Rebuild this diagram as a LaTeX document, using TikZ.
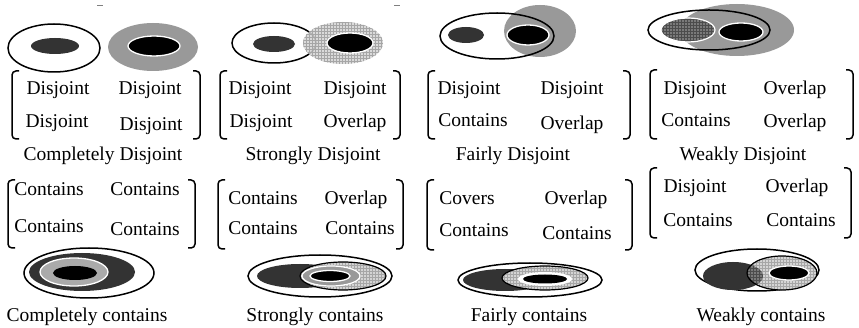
\documentclass[tikz,border=0pt]{standalone}
\usepackage{fontspec}
\setmainfont{Liberation Serif}
\usetikzlibrary{patterns}
\definecolor{darkf}{HTML}{333333}
\definecolor{midg}{HTML}{999999}
\definecolor{ltg}{HTML}{D4D4D4}
\definecolor{ringg}{HTML}{AAAAAA}
\definecolor{hatchd}{HTML}{7A7A7A}
\newcommand\brkt[4]{%
  \draw[brk] ({#1+7},#2) -- (#1,#2) -- (#1,#4) -- ({#1+7},#4);
  \draw[brk] ({#3-7},#2) -- (#3,#2) -- (#3,#4) -- ({#3-7},#4);}
\begin{document}
\begin{tikzpicture}[x=1pt,y=-1pt,
  lbl/.style={anchor=base,inner sep=0pt,font=\fontsize{19.5}{22}\selectfont},
  brk/.style={line width=1.5pt,rounded corners=4pt},
  outl/.style={draw=black,line width=1.5pt},
  blk/.style={fill=black,draw=white,line width=1.3pt},
  darkel/.style={fill=darkf},
  lighthatch/.style={fill=ltg},
  gridp/.style={pattern=grid,pattern color=gray!70}]
\useasboundingbox (0,0) rectangle (859,328);
\fill[white] (0,0) rectangle (859,328);
% tiny top marks
\draw[gray,line width=0.8pt] (97,5) -- (103,5);
\draw[gray,line width=0.8pt] (394,5) -- (400,5);
% ---------- top figures ----------
% 1 completely disjoint
\draw[outl] (54,48) ellipse [x radius=46,y radius=24];
\fill[darkel] (55,46) ellipse [x radius=24,y radius=8];
\fill[midg] (153,47) ellipse [x radius=45,y radius=24];
\filldraw[blk] (154,46) ellipse [x radius=26,y radius=10];
% 2 strongly disjoint
\draw[outl] (274,43) ellipse [x radius=42,y radius=20];
\fill[darkel] (274,44) ellipse [x radius=21,y radius=8];
\fill[ltg,fill opacity=0.85] (343,43) ellipse [x radius=40,y radius=21];
\fill[gridp] (343,43) ellipse [x radius=40,y radius=21];
\filldraw[blk] (350,43) ellipse [x radius=23,y radius=10];
% 3 fairly disjoint
\fill[midg] (540,31) ellipse [x radius=36,y radius=26];
\draw[outl] (497,36) ellipse [x radius=57,y radius=23];
\fill[darkel] (466,35) ellipse [x radius=18,y radius=8];
\filldraw[blk] (528,35) ellipse [x radius=21,y radius=10];
% 4 weakly disjoint
\fill[midg] (737,30) ellipse [x radius=57,y radius=26];
\draw[outl] (709,30) ellipse [x radius=61,y radius=20];
\filldraw[fill=hatchd,draw=white,line width=1.2pt] (688,30) ellipse [x radius=27,y radius=12];
\fill[pattern=grid,pattern color=black!70] (688,30) ellipse [x radius=26,y radius=11];
\filldraw[blk] (741,32) ellipse [x radius=22,y radius=9];
% ---------- top brackets ----------
\brkt{12}{71}{200}{139}
\brkt{220}{71}{400}{139}
\brkt{428}{71}{630}{139}
\brkt{650}{70}{853}{139}
\node[lbl] (a11) at (58,95) {Disjoint};
\node[lbl] (a12) at (150,95) {Disjoint};
\node[lbl] (a21) at (57,128) {Disjoint};
\node[lbl] (a22) at (151,131) {Disjoint};
\node[lbl] (b11) at (260,95) {Disjoint};
\node[lbl] (b12) at (355,95) {Disjoint};
\node[lbl] (b21) at (261,128) {Disjoint};
\node[lbl] (b22) at (355,128) {Overlap};
\node[lbl] (c11) at (469,95) {Disjoint};
\node[lbl] (c12) at (572,95) {Disjoint};
\node[lbl] (c21) at (473,127) {Contains};
\node[lbl] (c22) at (572,130) {Overlap};
\node[lbl] (d11) at (695,95) {Disjoint};
\node[lbl] (d12) at (795,95) {Overlap};
\node[lbl] (d21) at (696,127) {Contains};
\node[lbl] (d22) at (795,128) {Overlap};
\node[lbl] (capa) at (103,161) {Completely Disjoint};
\node[lbl] (capb) at (313,161) {Strongly Disjoint};
\node[lbl] (capc) at (513,161) {Fairly Disjoint};
\node[lbl] (capd) at (743,161) {Weakly Disjoint};
% ---------- bottom brackets ----------
\brkt{8}{180}{195}{248}
\brkt{218}{180}{403}{249}
\brkt{427}{180}{632}{250}
\brkt{650}{168}{851}{238}
\node[lbl] (e11) at (49,196) {Contains};
\node[lbl] (e12) at (145,196) {Contains};
\node[lbl] (e21) at (49,233) {Contains};
\node[lbl] (e22) at (145,236) {Contains};
\node[lbl] (f11) at (263,205) {Contains};
\node[lbl] (f12) at (356,205) {Overlap};
\node[lbl] (f21) at (263,235) {Contains};
\node[lbl] (f22) at (360,235) {Contains};
\node[lbl] (g11) at (467,205) {Covers};
\node[lbl] (g12) at (576,205) {Overlap};
\node[lbl] (g21) at (474,237) {Contains};
\node[lbl] (g22) at (577,240) {Contains};
\node[lbl] (h11) at (695,193) {Disjoint};
\node[lbl] (h12) at (797,193) {Overlap};
\node[lbl] (h21) at (698,227) {Contains};
\node[lbl] (h22) at (801,227) {Contains};
% ---------- bottom figures ----------
% 1 completely contains
\draw[outl] (89,273) ellipse [x radius=65,y radius=25];
\fill[darkel] (82,272) ellipse [x radius=53,y radius=19];
\filldraw[fill=ringg,draw=white,line width=1.3pt] (74,272) ellipse [x radius=34,y radius=14];
\fill[black] (75,273) ellipse [x radius=22,y radius=7];
% 2 strongly contains
\draw[outl] (320,276) ellipse [x radius=72,y radius=21];
\fill[darkel] (300,276) ellipse [x radius=43,y radius=12];
\fill[ltg] (343,276) ellipse [x radius=43,y radius=14];
\fill[gridp] (343,276) ellipse [x radius=43,y radius=14];
\draw[black,line width=1.2pt] (343,276) ellipse [x radius=43,y radius=14];
\filldraw[fill=midg,draw=white,line width=1.2pt] (331,276) ellipse [x radius=29,y radius=10];
\filldraw[blk] (330,276) ellipse [x radius=20,y radius=5.5];
% 3 fairly contains
\draw[outl] (530,280) ellipse [x radius=72,y radius=17];
\fill[darkel] (505,280) ellipse [x radius=42,y radius=11];
\fill[ltg] (545,278) ellipse [x radius=43,y radius=12];
\fill[gridp] (545,278) ellipse [x radius=43,y radius=12];
\draw[black,line width=1.2pt] (545,278) ellipse [x radius=43,y radius=12];
\fill[white] (545,279) ellipse [x radius=27,y radius=7];
\fill[black] (545,279) ellipse [x radius=22,y radius=4.5];
% 4 weakly contains
\draw[outl] (757,270) ellipse [x radius=62,y radius=21];
\fill[darkel] (733,276) ellipse [x radius=30,y radius=14];
\fill[ltg] (782,273) ellipse [x radius=35,y radius=17];
\fill[gridp] (782,273) ellipse [x radius=35,y radius=17];
\begin{scope}
\clip (733,276) ellipse [x radius=30,y radius=14];
\fill[hatchd] (782,273) ellipse [x radius=35,y radius=17];
\fill[pattern=grid,pattern color=black!70] (782,273) ellipse [x radius=35,y radius=17];
\end{scope}
\draw[black,line width=1.2pt] (782,273) ellipse [x radius=35,y radius=17];
\filldraw[blk] (789,273) ellipse [x radius=20,y radius=7];
\node[lbl] (cape) at (87,322) {Completely contains};
\node[lbl] (capf) at (315,322) {Strongly contains};
\node[lbl] (capg) at (529,322) {Fairly contains};
\node[lbl] (caph) at (761,322) {Weakly contains};
\end{tikzpicture}
\end{document}
